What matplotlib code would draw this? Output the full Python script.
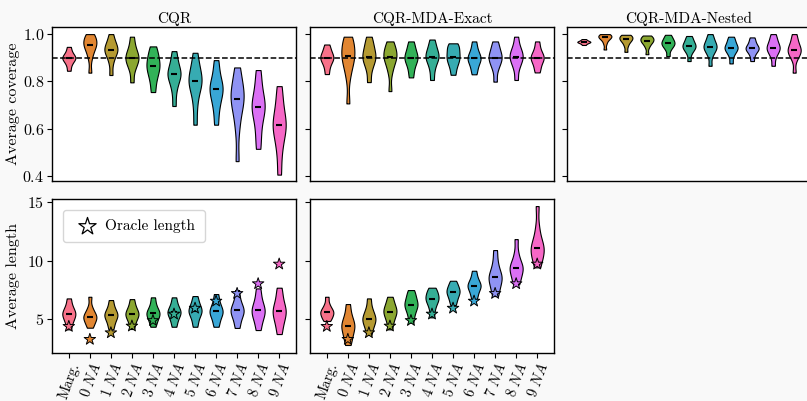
import numpy as np
import matplotlib
matplotlib.use("Agg")
import matplotlib.pyplot as plt
import seaborn as sns

plt.rcParams['font.family'] = 'cmr10'
plt.rcParams['mathtext.fontset'] = 'cm'
plt.rcParams['axes.formatter.use_mathtext'] = True

categories = ['Marg.', '0 NA', '1 NA', '2 NA', '3 NA', '4 NA', '5 NA', '6 NA', '7 NA', '8 NA', '9 NA']
titles = ['CQR', 'CQR-MDA-Exact', 'CQR-MDA-Nested']
target = 0.9

# coverage values (per pattern: tail, body, median, body, tail)
cov_cqr = [
    [0.845, 0.87, 0.885, 0.895, 0.899, 0.903, 0.912, 0.925, 0.946],
    [0.837, 0.90, 0.93, 0.945, 0.956, 0.965, 0.975, 0.99, 1.0],
    [0.827, 0.88, 0.91, 0.925, 0.932, 0.94, 0.955, 0.97, 1.0],
    [0.796, 0.85, 0.875, 0.89, 0.899, 0.91, 0.925, 0.95, 0.989],
    [0.755, 0.80, 0.83, 0.85, 0.865, 0.88, 0.90, 0.92, 0.948],
    [0.696, 0.76, 0.80, 0.82, 0.831, 0.84, 0.86, 0.89, 0.928],
    [0.617, 0.70, 0.76, 0.785, 0.80, 0.815, 0.84, 0.87, 0.921],
    [0.617, 0.68, 0.72, 0.75, 0.766, 0.78, 0.80, 0.84, 0.89],
    [0.463, 0.60, 0.67, 0.71, 0.727, 0.745, 0.77, 0.81, 0.859],
    [0.515, 0.58, 0.64, 0.675, 0.693, 0.71, 0.74, 0.79, 0.848],
    [0.406, 0.50, 0.56, 0.60, 0.614, 0.63, 0.67, 0.72, 0.78],
]
cov_exact = [
    [0.831, 0.86, 0.88, 0.893, 0.90, 0.907, 0.92, 0.935, 0.956],
    [0.707, 0.82, 0.87, 0.89, 0.907, 0.925, 0.95, 0.97, 0.989],
    [0.797, 0.85, 0.88, 0.895, 0.905, 0.92, 0.94, 0.96, 0.989],
    [0.759, 0.84, 0.875, 0.895, 0.905, 0.915, 0.93, 0.95, 0.969],
    [0.817, 0.85, 0.875, 0.89, 0.90, 0.91, 0.925, 0.945, 0.969],
    [0.806, 0.85, 0.88, 0.895, 0.905, 0.915, 0.93, 0.95, 0.977],
    [0.828, 0.86, 0.88, 0.895, 0.905, 0.92, 0.935, 0.95, 0.961],
    [0.83, 0.855, 0.875, 0.89, 0.898, 0.905, 0.92, 0.94, 0.969],
    [0.799, 0.85, 0.875, 0.89, 0.90, 0.91, 0.925, 0.945, 0.969],
    [0.806, 0.855, 0.88, 0.895, 0.905, 0.915, 0.93, 0.95, 0.989],
    [0.838, 0.86, 0.88, 0.893, 0.90, 0.908, 0.92, 0.94, 0.969],
]
cov_nested = [
    [0.954, 0.96, 0.963, 0.966, 0.967, 0.968, 0.971, 0.974, 0.979],
    [0.935, 0.96, 0.975, 0.982, 0.986, 0.99, 0.994, 0.997, 1.0],
    [0.925, 0.95, 0.965, 0.973, 0.978, 0.983, 0.988, 0.993, 0.997],
    [0.915, 0.945, 0.96, 0.967, 0.972, 0.977, 0.983, 0.988, 0.994],
    [0.907, 0.935, 0.948, 0.956, 0.961, 0.967, 0.975, 0.985, 0.997],
    [0.886, 0.92, 0.935, 0.944, 0.949, 0.955, 0.965, 0.978, 0.992],
    [0.866, 0.91, 0.93, 0.94, 0.946, 0.953, 0.965, 0.98, 1.0],
    [0.876, 0.91, 0.928, 0.937, 0.942, 0.948, 0.96, 0.975, 0.989],
    [0.886, 0.912, 0.928, 0.936, 0.94, 0.945, 0.955, 0.97, 0.986],
    [0.866, 0.905, 0.925, 0.935, 0.942, 0.95, 0.963, 0.98, 1.0],
    [0.837, 0.895, 0.915, 0.926, 0.932, 0.94, 0.955, 0.975, 1.0],
]

len_cqr = [
    [4.15, 4.7, 5.0, 5.3, 5.45, 5.6, 5.85, 6.2, 6.78],
    [4.29, 4.6, 4.9, 5.1, 5.22, 5.35, 5.6, 6.0, 6.92],
    [4.15, 4.6, 4.95, 5.2, 5.37, 5.5, 5.75, 6.1, 6.64],
    [4.18, 4.7, 5.05, 5.3, 5.45, 5.6, 5.85, 6.2, 6.72],
    [4.37, 4.8, 5.1, 5.35, 5.51, 5.65, 5.9, 6.3, 6.87],
    [4.37, 4.85, 5.2, 5.45, 5.6, 5.75, 6.0, 6.35, 6.87],
    [4.37, 4.9, 5.3, 5.55, 5.73, 5.9, 6.15, 6.5, 6.98],
    [4.37, 4.85, 5.25, 5.5, 5.68, 5.85, 6.15, 6.55, 7.15],
    [4.27, 4.85, 5.3, 5.55, 5.76, 5.95, 6.25, 6.75, 7.49],
    [4.09, 4.75, 5.2, 5.5, 5.76, 6.0, 6.35, 6.9, 7.63],
    [3.75, 4.5, 5.0, 5.4, 5.68, 5.95, 6.35, 6.95, 7.69],
]
len_exact = [
    [4.86, 5.1, 5.3, 5.5, 5.62, 5.75, 5.95, 6.3, 6.92],
    [2.82, 3.4, 3.8, 4.2, 4.43, 4.65, 5.0, 5.5, 6.3],
    [3.67, 4.2, 4.6, 4.85, 5.05, 5.25, 5.55, 6.0, 6.78],
    [4.15, 4.75, 5.15, 5.45, 5.65, 5.85, 6.1, 6.45, 6.92],
    [4.71, 5.3, 5.75, 6.05, 6.24, 6.45, 6.75, 7.1, 7.49],
    [5.17, 5.8, 6.25, 6.55, 6.73, 6.9, 7.15, 7.4, 7.69],
    [6.21, 6.6, 6.9, 7.15, 7.32, 7.5, 7.7, 7.95, 8.28],
    [6.7, 7.1, 7.45, 7.7, 7.86, 8.0, 8.25, 8.6, 9.13],
    [6.98, 7.5, 8.0, 8.35, 8.57, 8.8, 9.2, 9.9, 10.89],
    [7.97, 8.4, 8.85, 9.2, 9.38, 9.55, 9.9, 10.6, 11.82],
    [9.42, 10.0, 10.5, 10.85, 11.06, 11.3, 11.8, 12.8, 14.63],
]
oracle_len = [4.4, 3.3, 3.86, 4.43, 4.9, 5.45, 5.95, 6.55, 7.2, 8.03, 9.7]

colors = sns.color_palette('husl', len(categories))
pos = np.arange(len(categories))


def violins(ax, data):
    parts = ax.violinplot(data, positions=pos, widths=0.62, showextrema=False, bw_method=0.45)
    for body, c in zip(parts['bodies'], colors):
        body.set_facecolor(c)
        body.set_edgecolor('black')
        body.set_linewidth(0.8)
        body.set_alpha(1)
    meds = [np.median(d) for d in data]
    ax.scatter(pos, meds, marker='_', color='black', s=25, linewidths=1.5, zorder=3)


fig = plt.figure(figsize=(8.07, 4.01), dpi=100, facecolor='#f9f9f9')
W, H = 244 / 807, 154 / 401
lefts = [52 / 807, 310 / 807, 567 / 807]
top_b, bot_b = 1 - 181 / 401, 1 - 353 / 401

top_axes = []
for i, data in enumerate([cov_cqr, cov_exact, cov_nested]):
    ax = fig.add_axes([lefts[i], top_b, W, H], sharey=top_axes[0] if top_axes else None)
    violins(ax, data)
    ax.axhline(target, color='black', ls='--', lw=1.1, zorder=4)
    ax.set_title(titles[i], fontsize=11, pad=3)
    ax.set_xticks([])
    ax.set_xlim(-0.8, 10.8)
    if i > 0:
        ax.tick_params(labelleft=False)
    top_axes.append(ax)
top_axes[0].set_ylim(0.379, 1.03)
top_axes[0].set_yticks([0.4, 0.6, 0.8, 1.0])
top_axes[0].set_ylabel('Average coverage', fontsize=11.5)

tick_labels = [categories[0]] + ['$\\mathit{%s\\ NA}$' % c.split()[0] for c in categories[1:]]
bot_axes = []
for i, data in enumerate([len_cqr, len_exact]):
    ax = fig.add_axes([lefts[i], bot_b, W, H], sharey=bot_axes[0] if bot_axes else None)
    violins(ax, data)
    ax.scatter(pos, oracle_len, marker='*', s=75, c=colors, edgecolors='black', linewidths=0.7, zorder=5)
    ax.set_xlim(-0.8, 10.8)
    ax.set_xticks(pos)
    ax.set_xticklabels(tick_labels, rotation=70, ha='right', rotation_mode='anchor', fontsize=10.5)
    if i > 0:
        ax.tick_params(labelleft=False)
    bot_axes.append(ax)
bot_axes[0].set_ylim(2.14, 15.23)
bot_axes[0].set_yticks([5, 10, 15])
bot_axes[0].set_ylabel('Average length', fontsize=11.5)
bot_axes[0].scatter([], [], marker='*', s=170, facecolor='white', edgecolors='black', linewidths=0.9,
                    label='Oracle length')
bot_axes[0].legend(loc='upper left', fontsize=11, handletextpad=0.2, borderpad=0.6,
                   borderaxespad=0.7, edgecolor='#cccccc')

for ax in top_axes + bot_axes:
    ax.tick_params(axis='y', labelsize=11.5, length=3.5, width=0.8, pad=2)
    ax.tick_params(axis='x', length=3.5, width=0.8, pad=2)
    ax.yaxis.set_label_coords(-0.131, 0.5)
    for sp in ax.spines.values():
        sp.set_linewidth(1.0)

fig.savefig('out.png', dpi=100, facecolor=fig.get_facecolor())
